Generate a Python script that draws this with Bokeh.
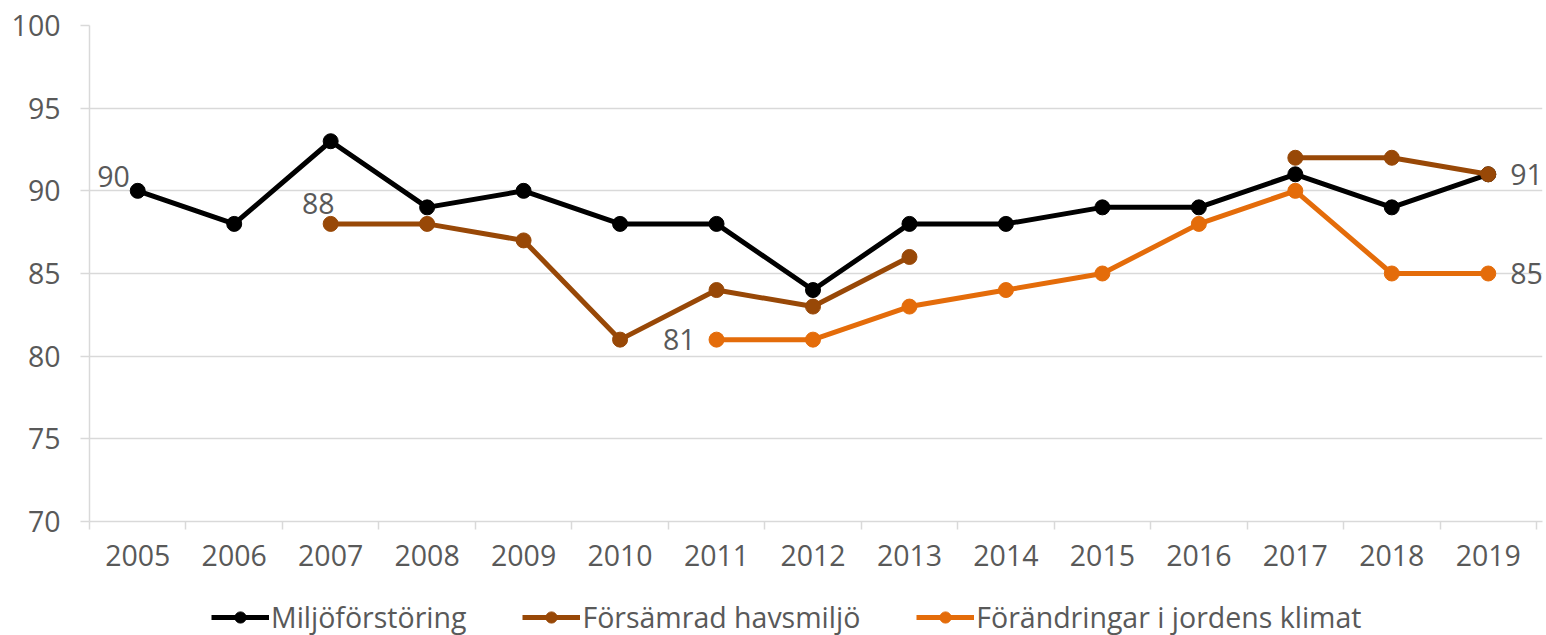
from bokeh.plotting import figure
from bokeh.layouts import column
from bokeh.models import Range1d, FixedTicker, Legend, LegendItem, Label
from bokeh.embed import file_html
from bokeh.resources import INLINE

nan = float("nan")
years = [2005, 2006, 2007, 2008, 2009, 2010, 2011, 2012, 2013, 2014, 2015, 2016, 2017, 2018, 2019]
miljo = [90, 88, 93, 89, 90, 88, 88, 84, 88, 88, 89, 89, 91, 89, 91]
hav = [nan, nan, 88, 88, 87, 81, 84, 83, 86, nan, nan, nan, 92, 92, 91]
klimat = [nan, nan, nan, nan, nan, nan, 81, 81, 83, 84, 85, 88, 90, 85, 85]
names = ["Miljöförstöring", "Försämrad havsmiljö", "Förändringar i jordens klimat"]
colors = ["#000000", "#984807", "#E46C0A"]
y_ticks = [70, 75, 80, 85, 90, 95, 100]

FONT = "Open Sans"
TXT = "#595959"
GRID = "#d9d9d9"
FS = "28.5px"

CAT_W = (1536 - 89) / len(years)   # pixel width of one year slot
EXTRA = 6                           # extra px at right so end labels are not clipped

p = figure(width=1546, height=590, output_backend="svg", toolbar_location=None,
           x_range=Range1d(years[0] - 0.5, years[-1] + 0.5 + EXTRA / CAT_W),
           y_range=Range1d(y_ticks[0], y_ticks[-1]),
           min_border_left=89, min_border_right=10 - EXTRA, min_border_top=25, min_border_bottom=69,
           outline_line_color=None)

p.xgrid.grid_line_color = None
p.ygrid.grid_line_color = GRID
p.ygrid.grid_line_width = 1.5

p.yaxis.ticker = FixedTicker(ticks=y_ticks)
p.yaxis.axis_line_color = GRID
p.yaxis.axis_line_width = 1.5
p.yaxis.major_tick_line_color = GRID
p.yaxis.major_tick_line_width = 1.5
p.yaxis.major_tick_out = 9
p.yaxis.major_tick_in = 0
p.yaxis.minor_tick_line_color = None
p.yaxis.major_label_standoff = 20

p.xaxis.ticker = FixedTicker(ticks=years, minor_ticks=[y - 0.5 for y in years] + [years[-1] + 0.5])
p.xaxis.axis_line_color = GRID
p.xaxis.axis_line_width = 1.5
p.xaxis.major_tick_line_color = None
p.xaxis.major_tick_out = 8
p.xaxis.major_tick_in = 0
p.xaxis.minor_tick_line_color = GRID
p.xaxis.minor_tick_line_width = 1.5
p.xaxis.minor_tick_out = 8
p.xaxis.minor_tick_in = 0
p.xaxis.major_label_standoff = 15

for ax in (p.xaxis, p.yaxis):
    ax.major_label_text_font = FONT
    ax.major_label_text_font_size = FS
    ax.major_label_text_color = TXT

for vals, col in zip([miljo, hav, klimat], colors):
    p.line(years, vals, line_color=col, line_width=5, line_join="round")
    p.scatter(years, vals, size=15, fill_color=col, line_color=col)

def lab(x, y, align, xo, yo):
    p.add_layout(Label(x=x, y=y, text=str(y), text_align=align, text_baseline="middle",
                       x_offset=xo, y_offset=yo, text_font=FONT, text_font_size=FS,
                       text_color=TXT))

lab(years[0], miljo[0], "right", -8, 14)
lab(years[2], hav[2], "right", 4, 20)
lab(years[6], klimat[6], "right", -21, 0)
lab(years[-1], miljo[-1], "left", 22, 0)
lab(years[-1], klimat[-1], "left", 22, 0)

# legend strip (its glyphs use the same series, far outside this strip's ranges)
q = figure(width=1546, height=45, output_backend="svg", toolbar_location=None,
           x_range=Range1d(0, 1), y_range=Range1d(0, 1), min_border=0, outline_line_color=None)
q.axis.visible = False
q.grid.visible = False
items = []
for name, vals, col in zip(names, [miljo, hav, klimat], colors):
    rl = q.line(years, vals, line_color=col, line_width=5)
    rs = q.scatter(years, vals, size=15, fill_color=col, line_color=col)
    items.append(LegendItem(label=name, renderers=[rl, rs]))
legend = Legend(items=items, orientation="horizontal", location=(122, -1),
                label_text_font=FONT, label_text_font_size=FS, label_text_color=TXT,
                glyph_width=58, glyph_height=28, label_standoff=2, spacing=56,
                border_line_color=None, background_fill_alpha=0, padding=0, margin=0)
q.add_layout(legend, "center")

open("out.html", "w").write(file_html(column(p, q, spacing=0), INLINE))
